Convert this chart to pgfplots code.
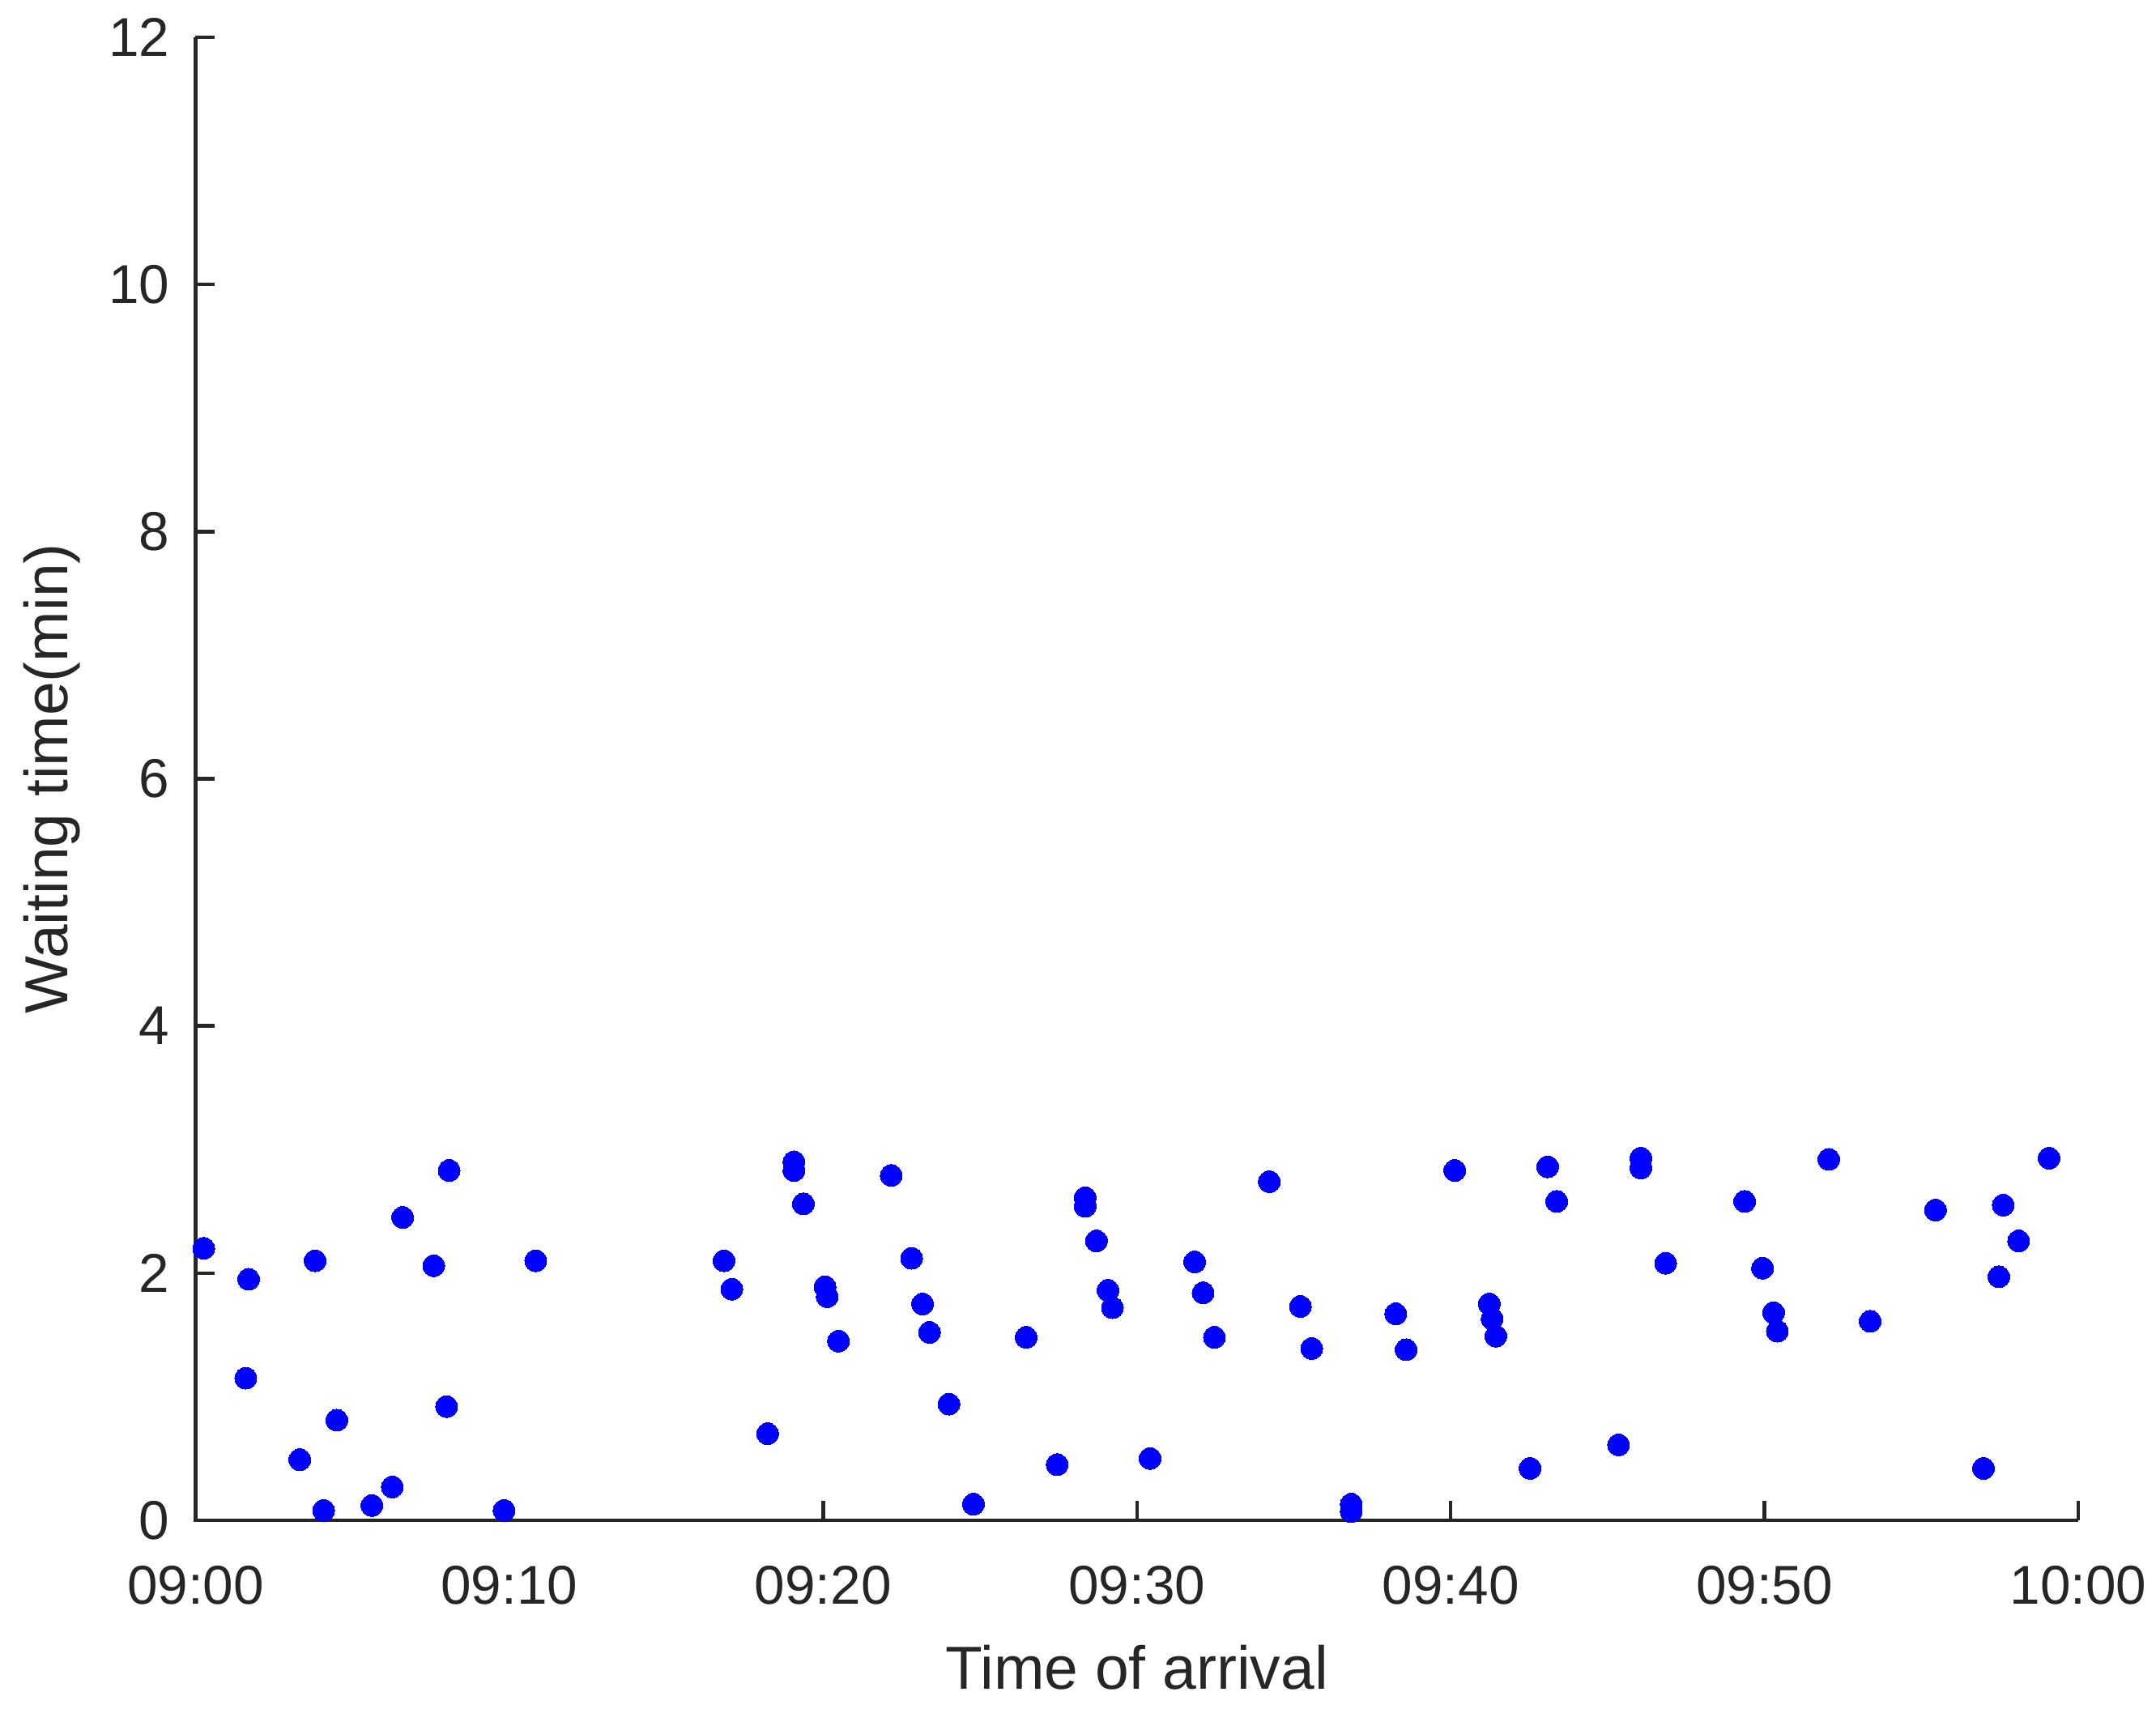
\documentclass[border=0pt]{standalone}
\usepackage{fontspec}
\setmainfont{Liberation Sans}
\usepackage{pgfplots}
\pgfplotsset{compat=1.18}
\definecolor{axgray}{RGB}{38,38,38}
\definecolor{mblue}{RGB}{0,0,255}
\begin{document}
\begin{tikzpicture}
\begin{axis}[
  scale only axis, width=464.9pt, height=366.2pt,
  xmin=0, xmax=60, ymin=0, ymax=12,
  axis line style={draw=none},
  xtick pos=bottom, ytick pos=left,
  tick style={axgray, line width=0.9pt},
  tick align=inside, major tick length=4.7pt,
  xtick={0,10,...,60},
  xticklabels={09:00,09:10,09:20,09:30,09:40,09:50,10:00},
  ytick={0,2,...,12},
  /pgf/number format/assume math mode=true,
  ticklabel style={font=\fontsize{13.5}{16}\selectfont, text=axgray, inner sep=0pt},
  xticklabel style={anchor=center, yshift=-16pt},
  yticklabel style={anchor=east, xshift=-6.2pt},
  xlabel={Time of arrival}, ylabel={Waiting time(min)},
  label style={font=\fontsize{15}{18}\selectfont, text=axgray},
  xlabel style={at={(axis description cs:0.5,-0.0994)}, anchor=center},
  ylabel style={at={(axis description cs:-0.0764,0.5)}, anchor=center},
  clip=false,
]
\draw[axgray, line width=0.9pt] (rel axis cs:0,1) -- (rel axis cs:0,0) -- (rel axis cs:1,0);
\addplot[only marks, mark=*, mark size=2.7pt, mark options={draw=mblue, fill=mblue, line width=0pt}] coordinates {
(0.26,2.20) (1.69,1.95) (1.60,1.15) (3.81,2.10) (6.60,2.45) (8.08,2.83) (7.59,2.06) (10.84,2.10)
(4.50,0.81) (8.00,0.92) (3.32,0.49) (6.27,0.27) (5.62,0.12) (4.08,0.08) (9.83,0.08)
(19.07,2.90) (19.07,2.83) (22.17,2.79) (19.37,2.56) (16.84,2.10) (17.09,1.87)
(20.06,1.89) (20.13,1.81) (20.49,1.45) (22.82,2.12) (23.17,1.75) (23.39,1.52)
(26.47,1.48) (24.01,0.94) (18.23,0.70) (24.79,0.13) (27.46,0.45)
(28.35,2.61) (28.35,2.54) (28.71,2.26) (29.08,1.86) (29.22,1.72) (30.42,0.50)
(34.22,2.74) (40.13,2.83) (43.09,2.86) (43.38,2.58) (46.06,2.93) (46.06,2.85)
(31.84,2.09) (32.11,1.84) (32.47,1.48) (35.21,1.73) (35.57,1.39) (38.25,1.67) (38.58,1.38)
(41.23,1.75) (41.32,1.63) (41.44,1.49) (36.83,0.13) (36.83,0.07) (42.53,0.42) (45.35,0.61)
(52.05,2.92) (59.07,2.93) (49.37,2.58) (55.45,2.51) (57.61,2.55) (58.10,2.26) (57.47,1.97)
(46.85,2.08) (49.94,2.04) (50.29,1.68) (50.41,1.53) (53.37,1.61) (56.98,0.42)
};
\coordinate (O) at (rel axis cs:0,0);
\end{axis}
\pgfresetboundingbox
\path (O) ++(-48.3pt,-46.6pt) rectangle ++(532.4pt,422pt);
\end{tikzpicture}
\end{document}
